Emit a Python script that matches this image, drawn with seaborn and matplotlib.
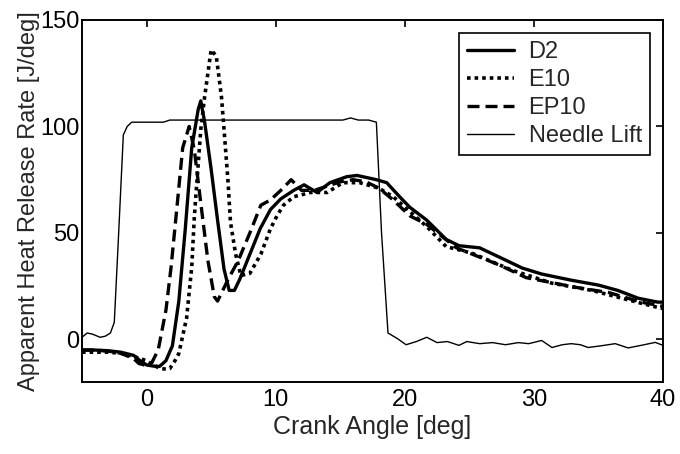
import matplotlib
matplotlib.use("Agg")
import matplotlib.pyplot as plt
import numpy as np
import pandas as pd
import seaborn as sns

# Crank angle [deg] / heat release rate [J/deg]
d2_x = [-5, -4, -3, -2, -1, -0.5, 0, 0.5, 1, 1.5, 2, 2.5, 3, 3.5, 4, 4.2, 4.5, 5, 5.5, 6,
        6.4, 6.8, 7.2, 7.8, 8.8, 9.6, 10.4, 11.4, 12.2, 13.2, 14.2, 15.5, 16.3, 17.8, 18.6,
        19.6, 20.4, 21.7, 23.2, 24.2, 25.8, 27.3, 29.1, 30.6, 32.9, 35, 36.5, 38.1, 39.6, 40]
d2_y = [-5, -5, -5.3, -6, -7.5, -10, -12, -12.5, -12.7, -10, -3, 18, 52, 90, 108, 112, 102, 80, 56, 33,
        23, 23, 28, 37, 52, 61, 66, 70, 72.6, 69, 73.6, 76.4, 77, 75, 73.6,
        67, 62, 56, 47, 44, 43, 38.7, 33.5, 30.7, 27.8, 25.5, 23, 19.3, 17.5, 17.5]

e10_x = [-5, -4, -3, -2, -1, 0, 0.5, 1, 1.5, 1.8, 2.2, 2.5, 3.1, 3.5, 3.7, 3.85, 4.2, 4.5, 5.0,
         5.4, 5.8, 6.0, 6.3, 6.5, 6.9, 7.3, 8.0, 8.85, 9.6, 10.1, 10.6, 11.4, 12.7, 14, 15.2,
         16.5, 18, 19.1, 20.4, 21.7, 23.2, 25.2, 28.3, 31.4, 34.5, 38.3, 39.6, 40]
e10_y = [-6, -6, -6, -6.5, -8, -10, -12, -13.5, -14, -13.7, -10, -6.6, 10, 34, 57.5, 70, 98.6, 114, 136,
         133, 114, 98.6, 75, 55, 40, 30, 31, 40, 52, 58, 63, 67, 69, 69, 73.6,
         73.6, 71, 67, 60, 53, 43.6, 40.5, 32.5, 26.4, 23, 17, 15, 14.5]

ep10_x = [-5, -4, -3, -2, -1, -0.6, 0, 0.4, 0.9, 1.5, 1.9, 2.4, 2.8, 3.3, 3.7, 4.2, 4.75, 5.25,
          5.5, 6.3, 7.1, 8.0, 8.85, 9.6, 10.4, 11.2, 12, 13, 14, 15, 16, 17, 18, 19, 20.4, 21.7,
          24, 27.3, 29.4, 33.2, 35.8, 38.3, 39.6, 40]
ep10_y = [-5, -5, -5.5, -6.5, -9, -11.3, -12.3, -11, -5, 13.7, 34, 65, 90, 100, 89, 64, 37, 20,
          18, 28, 37, 50, 63, 65.5, 70, 75, 70, 70, 72, 74, 75, 74, 71, 66, 58, 54,
          43, 35, 29, 24.5, 22, 17.5, 16, 15.5]

needle_x = [-5, -4.6, -4.2, -3.6, -3.2, -2.8, -2.5, -2.2, -1.8, -1.5, -1.15, 1.3, 1.8, 15.2, 15.8,
            16.4, 17.2, 17.8, 18.2, 18.7, 19.4, 20.1, 20.9, 21.7, 22.5, 23.3, 24.2, 24.8, 25.8,
            26.8, 27.8, 28.8, 29.6, 30.6, 31.4, 32.2, 32.9, 33.6, 34.2, 35.2, 36.3, 37.3, 38.3,
            39.4, 40]
needle_y = [1, 3, 2.5, 1, 1.5, 3, 8, 45, 96, 100, 102, 102, 103, 103, 104,
            103, 103, 102, 50, 3, 0.5, -2.5, -1, 1, -1.5, -1, -2.8, -1, -2,
            -1.5, -2.5, -1.5, -2, -0.5, -3.8, -2.5, -2, -2.5, -3.8, -3, -2, -4, -2.8,
            -1.4, -2.8]

series = [
    ("D2", d2_x, d2_y, dict(linestyle="-", linewidth=2.4)),
    ("E10", e10_x, e10_y, dict(linestyle=(0, (1, 1.1)), linewidth=2.6)),
    ("EP10", ep10_x, ep10_y, dict(linestyle=(0, (3.6, 1.8)), linewidth=2.4)),
    ("Needle Lift", needle_x, needle_y, dict(linestyle="-", linewidth=1.0)),
]

FS = 17

sns.set_style("white")
plt.rcParams["font.family"] = ["Liberation Sans", "DejaVu Sans"]

fig = plt.figure(figsize=(6.8, 4.54), dpi=100)
ax = fig.add_axes([0.1206, 0.1586, 0.8544, 0.7974])

for name, xs, ys, style in series:
    df = pd.DataFrame({"x": xs, "y": ys})
    sns.lineplot(data=df, x="x", y="y", ax=ax, color="black", label=name,
                 sort=False, estimator=None, **style)

ax.set_xlim(-5, 40)
ax.set_ylim(-20, 150)
ax.set_xticks([0, 10, 20, 30, 40])
ax.set_yticks([0, 50, 100, 150])
ax.tick_params(direction="in", top=True, right=True, length=5, width=1.2,
               labelsize=FS, colors="black")
ax.tick_params(axis="x", pad=5)
ax.tick_params(axis="y", pad=2)
for s in ax.spines.values():
    s.set_linewidth(1.4)
    s.set_color("black")
ax.set_xlabel("Crank Angle [deg]", fontsize=18, labelpad=3)
ax.set_ylabel("Apparent Heat Release Rate [J/deg]", fontsize=FS, labelpad=0)

leg = ax.legend(loc="upper right", fontsize=FS, frameon=True, fancybox=False,
                framealpha=1, edgecolor="black", handlelength=2.0,
                borderaxespad=0.55, labelspacing=0.25, borderpad=0.35,
                handletextpad=0.6)
leg.get_frame().set_linewidth(1.2)

fig.savefig("out.png", dpi=100)
